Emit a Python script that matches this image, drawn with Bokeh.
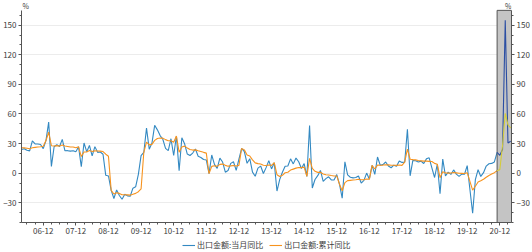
from bokeh.plotting import figure
from bokeh.layouts import column
from bokeh.models import Range1d, LinearAxis, FixedTicker, Legend, LegendItem, Label
from bokeh.embed import file_html
from bokeh.resources import INLINE

# ---------------- data ----------------
start_year, start_month = 2006, 4          # first month of the main series
# 出口金额:当月同比 (%), monthly from 2006-04 to 2020-11 (None = not published)
month_yoy = [
    23.9, 24.8, 23.2, 22.6, 32.8, 29.7, 29.6, 29.1, 24.9,                      # 2006
    33.0, 51.7, 6.9, 26.8, 28.9, 27.1, 34.2, 22.7, 22.8, 22.3, 22.8, 21.7,      # 2007
    26.7, 6.5, 30.6, 21.8, 28.1, 17.6, 26.9, 21.1, 21.5, 19.2, -2.2, -2.8,      # 2008
    -17.5, -25.7, -17.1, -22.6, -26.4, -21.4, -23.0, -23.4, -15.2, -13.8, -1.2, 17.7,  # 2009
    21.0, 45.7, 24.3, 30.5, 48.5, 43.9, 38.1, 34.4, 25.1, 22.9, 34.9, 17.9,     # 2010
    37.7, 2.4, 35.8, 29.9, 19.4, 17.9, 20.4, 24.5, 17.1, 15.9, 13.8, 13.4,      # 2011
    -0.5, 18.4, 8.9, 4.9, 15.3, 11.3, 1.0, 2.7, 9.9, 11.6, 2.9, 14.1,           # 2012
    25.0, 21.8, 10.0, 14.7, 1.0, -3.1, 5.1, 7.2, -0.3, 5.6, 12.7, 4.3,          # 2013
    10.6, -18.1, -6.6, 0.9, 7.0, 7.2, 14.5, 9.4, 15.3, 11.6, 4.7, 9.7,          # 2014
    -3.3, 48.3, -15.0, -6.4, -2.5, 2.8, -8.3, -5.5, -3.7, -6.9, -6.8, -1.4,     # 2015
    -11.2, -25.4, 11.5, -1.8, -4.1, -4.8, -4.4, -2.8, -10.0, -7.3, 0.1, -6.1,   # 2016
    7.9, -1.3, 16.4, 8.0, 8.7, 11.3, 7.2, 5.5, 8.1, 6.9, 12.3, 10.9,            # 2017
    11.1, 44.5, -2.7, 12.9, 12.6, 11.3, 12.2, 9.8, 14.5, 15.6, 5.4, -4.4,       # 2018
    9.1, -20.8, 14.2, -2.7, 1.1, -1.3, 3.3, -1.0, -3.2, -0.9, -1.1, 7.6,        # 2019
    None, -40.6, -6.6, 3.5, -3.3, 0.5, 7.2, 9.5, 9.9, 11.4, 21.1,               # 2020
]
# 出口金额:累计同比 (%)
cum_yoy = [
    25.8, 25.6, 25.2, 24.8, 25.7, 26.1, 26.5, 26.8, 27.2,                       # 2006
    33.0, 41.5, 27.8, 27.6, 27.9, 27.6, 28.5, 27.6, 27.1, 26.5, 26.5, 25.7,     # 2007
    26.7, 16.8, 21.4, 21.5, 22.9, 21.9, 22.6, 22.4, 22.3, 21.9, 19.2, 17.2,     # 2008
    -17.5, -21.1, -19.8, -20.5, -21.8, -21.8, -22.0, -22.3, -21.3, -20.5, -18.8, -16.0,  # 2009
    21.0, 31.4, 28.7, 29.2, 33.2, 35.2, 35.6, 35.5, 34.0, 32.9, 32.9, 31.3,     # 2010
    37.7, 21.3, 26.5, 27.4, 25.6, 24.0, 23.4, 23.6, 22.7, 22.0, 21.1, 20.3,     # 2011
    -0.5, 6.9, 7.6, 6.9, 8.9, 9.2, 7.9, 7.1, 7.4, 7.8, 7.3, 7.9,                # 2012
    25.0, 23.6, 18.4, 17.4, 13.5, 10.4, 9.7, 9.3, 8.0, 7.8, 8.2, 7.9,           # 2013
    10.6, -1.6, -3.4, -2.2, 0.4, 0.9, 3.1, 4.1, 5.1, 5.7, 5.6, 6.1,             # 2014
    -3.3, 15.0, 4.9, 1.9, 0.8, 0.9, -0.8, -1.6, -1.9, -2.4, -2.8, -2.8,         # 2015
    -11.2, -17.8, -9.6, -7.6, -7.3, -7.0, -6.7, -6.2, -6.6, -6.6, -6.0, -6.1,   # 2016
    7.9, 4.2, 8.2, 8.1, 8.2, 8.5, 8.4, 8.0, 8.0, 7.9, 8.2, 7.9,                 # 2017
    11.1, 24.4, 14.1, 13.7, 13.5, 12.8, 12.5, 12.2, 12.2, 12.0, 11.8, 9.9,      # 2018
    9.1, -4.6, 1.4, 0.2, 0.0, 0.1, 0.6, 0.3, -0.1, -0.2, -0.3, 0.5,             # 2019
    None, -17.2, -13.3, -9.0, -7.7, -6.2, -4.1, -2.3, -0.8, 0.5, 2.5,           # 2020
]
# highlighted latest period (grey band), monthly from 2020-11 to 2021-04
hl_start_year, hl_start_month = 2020, 11
hl_month_yoy = [21.1, 18.1, 24.0, 154.9, 30.6, 32.3]
hl_cum_yoy = [2.5, 3.6, 28.0, 60.6, 49.0, 46.0]

tick_labels = ["06-12", "07-12", "08-12", "09-12", "10-12", "11-12", "12-12", "13-12",
               "14-12", "15-12", "16-12", "17-12", "18-12", "19-12", "20-12"]
y_ticks = [-30, 0, 30, 60, 90, 120, 150]
y_min, y_top = -50, 165          # axis extent
y_view_max = 175                 # room above the axes for the "%" unit marks

legend_labels = ["出口金额:当月同比", "出口金额:累计同比"]

# ---------------- helpers ----------------
def idx(y, m):
    return (y - 2006) * 12 + (m - 1)

x0 = idx(start_year, start_month)
mx = [x0 + i for i, v in enumerate(month_yoy) if v is not None]
my = [v for v in month_yoy if v is not None]
cx = [x0 + i for i, v in enumerate(cum_yoy) if v is not None]
cy = [v for v in cum_yoy if v is not None]
h0 = idx(hl_start_year, hl_start_month)
hx = [h0 + i for i in range(len(hl_month_yoy))]
x_start = x0
x_end = hx[-1] + 0.3

dec_ticks = [idx(2006 + i, 12) for i in range(len(tick_labels))]
minor_x = [idx(2006, 3) + 3 * k for k in range(70) if idx(2006, 3) + 3 * k <= x_end]

FONT = "Noto Sans CJK SC"
AX = "#555555"
TXT = "#3c3c3c"
BLUE = "#3389c2"
ORANGE = "#f7931e"

p = figure(width=532, height=238, output_backend="svg", toolbar_location=None,
           x_range=Range1d(x_start, x_end), y_range=Range1d(y_min, y_view_max),
           min_border_left=20, min_border_right=21, min_border_top=0, min_border_bottom=16)
p.outline_line_color = None
p.background_fill_color = "white"
p.border_fill_color = "white"
p.xgrid.grid_line_color = None
p.ygrid.grid_line_color = "#ececec"
p.ygrid.grid_line_width = 1

yt = FixedTicker(ticks=y_ticks, minor_ticks=list(range(y_min, 161, 10)))
p.yaxis.ticker = yt
p.ygrid.ticker = yt
right_axis = LinearAxis(ticker=yt)
p.add_layout(right_axis, "right")

p.xaxis.ticker = FixedTicker(ticks=dec_ticks, minor_ticks=minor_x)
p.xaxis.major_label_overrides = {t: l for t, l in zip(dec_ticks, tick_labels)}

for ax in [p.xaxis[0], p.yaxis[0], right_axis]:
    ax.axis_line_color = AX
    ax.major_tick_line_color = AX
    ax.minor_tick_line_color = AX
    ax.major_tick_in = 0
    ax.major_tick_out = 3
    ax.minor_tick_in = 0
    ax.minor_tick_out = 2
    ax.major_label_text_font = FONT
    ax.major_label_text_font_size = "8px"
    ax.major_label_text_color = TXT
    ax.major_label_standoff = 2
p.yaxis[0].bounds = (y_min, y_top)
right_axis.bounds = (y_min, y_top)

# main lines
p.line(mx, my, line_color=BLUE, line_width=1.1)
p.line(cx, cy, line_color=ORANGE, line_width=1.1)

# grey highlight band
p.quad(left=[h0], right=[x_end], bottom=[y_min], top=[y_top],
       fill_color="#c4c4c4", line_color="#555555", line_width=1)
p.line(hx, hl_month_yoy, line_color="#2b4ea3", line_width=1.1)
p.line(hx, hl_cum_yoy, line_color="#d4cc3a", line_width=1.1)

p.add_layout(Label(x=x_start, y=y_top, text="%", text_font=FONT, text_font_size="7px",
                   text_color=TXT, text_baseline="bottom", x_offset=1, y_offset=-1))
p.add_layout(Label(x=x_end, y=y_top, text="%", text_font=FONT, text_font_size="7px",
                   text_color=TXT, text_baseline="bottom", text_align="right",
                   x_offset=0, y_offset=-1))

# legend strip under the chart (keys drawn from off-screen copies of the series)
lg = figure(width=532, height=14, output_backend="svg", toolbar_location=None,
            x_axis_type=None, y_axis_type=None, min_border=0,
            x_range=Range1d(0, 1), y_range=Range1d(0, 1))
lg.outline_line_color = None
lg.xgrid.grid_line_color = None
lg.ygrid.grid_line_color = None
d1 = lg.line(mx[:2], my[:2], line_color=BLUE, line_width=1.1)
d2 = lg.line(cx[:2], cy[:2], line_color=ORANGE, line_width=1.1)
legend = Legend(items=[LegendItem(label=legend_labels[0], renderers=[d1]),
                       LegendItem(label=legend_labels[1], renderers=[d2])],
                orientation="horizontal", location=(161, 2),
                border_line_color=None, background_fill_alpha=0,
                label_text_font=FONT, label_text_font_size="8px", label_text_color=TXT,
                glyph_width=13, glyph_height=8, label_height=8, spacing=6,
                padding=0, margin=0, label_standoff=2)
lg.add_layout(legend, "center")

open("out.html", "w").write(file_html(column(p, lg, spacing=0), INLINE))
